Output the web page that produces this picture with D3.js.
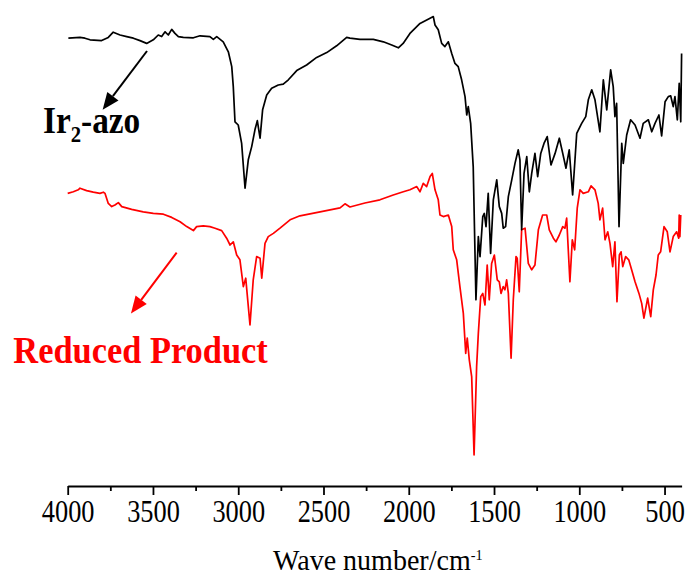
<!DOCTYPE html>
<html>
<head>
<meta charset="utf-8">
<script src="https://cdn.jsdelivr.net/npm/d3@7"></script>
<style>
  body { margin: 0; background: #fff; }
  svg { display: block; }
</style>
</head>
<body>
<div id="chart"></div>
<script>
// IR spectra: wavenumber (cm-1) and transmittance (arbitrary units, offset)
var blackWn = [3996,3928,3899,3869,3801,3762,3733,3693,3654,3615,
  3576,3537,3498,3469,3449,3429,3410,3390,3371,3351,
  3322,3263,3224,3166,3146,3126,3088,3058,3038,3029,
  3019,3000,2980,2960,2941,2921,2902,2888,2872,2857,
  2833,2804,2765,2736,2706,2657,2599,2540,2481,2423,
  2364,2345,2286,2208,2149,2100,2061,2033,1993,1934,
  1875,1856,1846,1827,1807,1788,1768,1748,1729,1710,
  1690,1670,1660,1651,1637,1622,1606,1592,1582,1566,
  1557,1547,1534,1520,1504,1484,1469,1455,1446,1432,
  1416,1396,1377,1358,1348,1338,1324,1308,1293,1279,
  1260,1244,1226,1207,1188,1166,1142,1117,1097,1078,
  1059,1039,1015,986,962,947,927,908,879,859,
  839,816,801,791,781,767,751,742,722,699,
  673,644,625,595,575,556,533,517,497,478,
  464,449,439,425,414,405,400];
var blackT = [112.2,112.4,112.2,111.8,111.6,112.4,113.7,113,112.6,112.2,
  111.6,110.9,111.8,113,112.6,113.8,113,114.4,113.4,112.6,
  112.4,112.3,112.8,112.6,111.9,112.6,111.3,108.8,105.1,100.1,
  91.3,90.5,85.9,74.7,81.8,85.1,89.3,91.6,87.2,94.3,
  98,99.7,100.5,100.7,101.8,104.1,105.5,107.4,108.6,110.3,
  112.4,112.2,111.9,111.9,111.3,110.5,109.8,110.9,113.4,115.9,
  117.2,117.6,115.5,114.3,110.9,110.1,111.3,108.4,105.9,105.1,
  101.8,97.6,93,95.1,90.9,80.1,46.8,62.6,57.6,67.6,
  68.4,65.1,73.4,58.4,71.8,76.8,70.1,68.4,64.7,65.1,
  72.6,76.8,80.9,84.3,81.8,64.3,78.4,82.6,73.8,78.4,
  83.4,77.6,83.4,85.9,87.6,80.5,83.4,87.2,83.4,79.7,
  84.3,73,88.4,90.9,92.6,96.8,99.3,96.8,88.8,101.8,
  94.3,104.3,100.1,92.6,95.9,65.1,85.9,80.9,88,91.8,
  90.5,87.2,90.9,91.8,88.8,90.9,93,87.8,96.3,97.6,
  97.8,95.1,97.6,91.8,100.9,91.3,108.4];

var redWn = [4000,3967,3938,3928,3889,3850,3811,3791,3781,3762,
  3742,3723,3703,3683,3625,3557,3498,3439,3390,3341,
  3302,3263,3244,3205,3166,3136,3097,3068,3048,3029,
  3009,2990,2970,2956,2931,2912,2892,2872,2862,2843,
  2824,2794,2755,2696,2638,2520,2403,2374,2345,2257,
  2169,2091,2032,1993,1953,1934,1915,1895,1875,1862,
  1846,1827,1817,1797,1768,1748,1739,1719,1700,1680,
  1666,1657,1645,1631,1617,1602,1592,1578,1566,1553,
  1540,1528,1514,1498,1481,1469,1459,1446,1436,1426,
  1416,1400,1387,1371,1364,1352,1338,1318,1299,1279,
  1260,1240,1215,1191,1176,1152,1137,1117,1097,1084,
  1074,1055,1041,1027,1012,996,977,947,931,908,
  889,879,863,849,833,820,804,791,779,765,
  755,745,728,710,693,673,650,634,621,599,
  581,566,550,537,523,503,484,468,449,429,
  417,414,410,405];
var redT = [73.4,73.8,74.3,74.7,74.1,73.7,73.4,73.7,73.4,70.9,
  70.1,70.5,71.1,70.1,69.4,68.8,68.4,68.2,67.4,66.3,
  65.1,64.1,65.1,65.3,65.1,64.7,64.1,62.2,60.5,61.3,
  58,56.8,50.1,52.2,40.5,51.8,57.6,57.2,52.2,60.9,
  62.6,63.4,64.7,66.8,67.8,68.8,69.8,70.8,70,71,
  71.8,73,73.8,74.3,75.1,73.8,75.9,75.1,77.6,78.4,
  74.3,71.8,68,67.6,68,65.1,59.3,56.8,50.1,43.4,
  33.4,37.2,31.8,27.6,8,30.1,38.4,47.6,48.4,45.5,
  55.5,46.8,55.9,58,51.8,51.3,48.4,50.1,49.3,51.8,
  48.4,32.2,46.8,57.6,57.2,48.8,64.3,64.7,55.9,54.3,
  55.5,64.3,68,68,64.3,62.2,61.3,63,65.1,64.7,
  67.2,51.3,61.8,59.3,69.7,74.3,73.4,73.8,75.3,74.3,
  70.9,66.8,69.7,61.8,63.8,60.9,55.1,61.3,46.3,58,
  58.8,55.1,57.6,56.8,54.3,51.3,48.4,45.9,42.2,47.2,
  42.6,49.3,53,58,58.8,65.1,63.8,58.8,62.6,63.8,
  62.2,68,62.6,68];

var majorTicks = [4000,3500,3000,2500,2000,1500,1000,500];
var minorTicks = [3750,3250,2750,2250,1750,1250,750];

// annotation arrows, given in data space: [fromWn, fromT, toWn, toT]
var blackArrow = [3535, 109, 3795, 94.3];
var redArrow = [3361, 58.6, 3629, 43.4];

var w = 689, h = 576;

var svg = d3.select("#chart").append("svg")
    .attr("width", w)
    .attr("height", h);

var xScale = d3.scaleLinear().domain([4000, 400]).range([67.7, 681.6]);
var yScale = d3.scaleLinear().domain([0, 120]).range([487, 7]);

var line = d3.line()
    .x(function(d) { return xScale(d[0]); })
    .y(function(d) { return yScale(d[1]); });

var blackData = d3.zip(blackWn, blackT);
var redData = d3.zip(redWn, redT);

svg.append("path")
    .datum(redData)
    .attr("fill", "none")
    .attr("stroke", "#ff0000")
    .attr("stroke-width", 1.7)
    .attr("stroke-linejoin", "round")
    .attr("d", line);

svg.append("path")
    .datum(blackData)
    .attr("fill", "none")
    .attr("stroke", "#000")
    .attr("stroke-width", 1.7)
    .attr("stroke-linejoin", "round")
    .attr("d", line);

// x axis
var axisY = 486;
var xAxis = d3.axisBottom(xScale)
    .tickValues(majorTicks)
    .tickSize(9)
    .tickSizeOuter(0)
    .tickFormat(d3.format("d"));

var gx = svg.append("g")
    .attr("transform", "translate(0," + axisY + ")")
    .call(xAxis);

gx.select(".domain").attr("stroke-width", 2);
gx.selectAll(".tick line").attr("stroke-width", 1.8);
gx.selectAll(".tick text")
    .attr("y", 36)
    .attr("dy", null)
    .attr("fill", "#000")
    .attr("font-family", "'Liberation Serif', 'Times New Roman', serif")
    .attr("font-size", 31)
    .attr("transform", "scale(0.85,1)");

var minorAxis = d3.axisBottom(xScale)
    .tickValues(minorTicks)
    .tickSize(5)
    .tickSizeOuter(0)
    .tickFormat("");

var gm = svg.append("g")
    .attr("transform", "translate(0," + axisY + ")")
    .call(minorAxis);
gm.select(".domain").remove();
gm.selectAll(".tick line").attr("stroke-width", 1.8);

// axis title
var title = svg.append("g")
    .attr("transform", "translate(273,570) scale(0.95,1)")
    .append("text")
    .attr("font-family", "'Liberation Serif', 'Times New Roman', serif")
    .attr("font-size", 29.5)
    .attr("fill", "#000");
title.append("tspan").text("Wave number/cm");
title.append("tspan").attr("font-size", 15).attr("dy", -10).text("-1");

// arrows
function drawArrow(a, color) {
    var x1 = xScale(a[0]), y1 = yScale(a[1]);
    var x2 = xScale(a[2]), y2 = yScale(a[3]);
    var dx = x2 - x1, dy = y2 - y1;
    var len = Math.sqrt(dx * dx + dy * dy);
    var ux = dx / len, uy = dy / len;
    var headLen = 17, headW = 7;
    var bx = x2 - ux * headLen, by = y2 - uy * headLen;
    svg.append("line")
        .attr("x1", x1).attr("y1", y1)
        .attr("x2", bx).attr("y2", by)
        .attr("stroke", color)
        .attr("stroke-width", 2);
    svg.append("path")
        .attr("d", "M" + x2 + "," + y2 +
            "L" + (bx - uy * headW) + "," + (by + ux * headW) +
            "L" + (bx + uy * headW) + "," + (by - ux * headW) + "Z")
        .attr("fill", color);
}
drawArrow(blackArrow, "#000");
drawArrow(redArrow, "#ff0000");

// labels
var lab1 = svg.append("g")
    .attr("transform", "translate(" + xScale(4145) + "," + yScale(88.5) + ") scale(0.9,1)")
    .append("text")
    .attr("font-family", "'Liberation Serif', 'Times New Roman', serif")
    .attr("font-weight", "bold")
    .attr("font-size", 37)
    .attr("fill", "#000");
lab1.append("tspan").text("Ir");
lab1.append("tspan").attr("font-size", 23).attr("dy", 9).text("2");
lab1.append("tspan").attr("dy", -9).text("-azo");

svg.append("g")
    .attr("transform", "translate(" + xScale(4319) + "," + yScale(31) + ") scale(0.93,1)")
    .append("text")
    .attr("font-family", "'Liberation Serif', 'Times New Roman', serif")
    .attr("font-weight", "bold")
    .attr("font-size", 37)
    .attr("fill", "#ff0000")
    .text("Reduced Product");
</script>
</body>
</html>
